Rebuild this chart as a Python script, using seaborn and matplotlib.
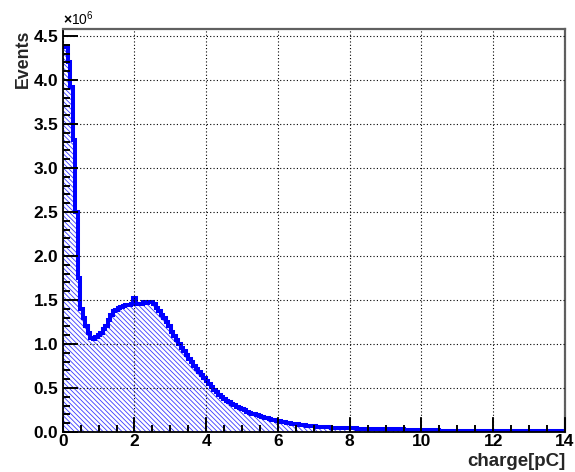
import numpy as np
import pandas as pd
import matplotlib
matplotlib.use("Agg")
import matplotlib.pyplot as plt
import seaborn as sns
from matplotlib.ticker import MultipleLocator, ScalarFormatter, FixedLocator

# ---------------- data ----------------
x_min, x_max, n_bins = 0.0, 14.0, 200
# histogram contents, in units of 10^6 events, one value per 0.07 pC bin
events_millions = [
    4.38, 4.38, 4.20, 3.92, 3.32, 2.50, 1.75, 1.40, 1.30, 1.20,
    1.12, 1.07, 1.06, 1.08, 1.10, 1.13, 1.17, 1.21, 1.27, 1.33,
    1.37, 1.39, 1.41, 1.42, 1.43, 1.44, 1.44, 1.45, 1.52, 1.45,
    1.46, 1.45, 1.48, 1.47, 1.48, 1.48, 1.46, 1.41, 1.37, 1.33,
    1.29, 1.25, 1.20, 1.14, 1.09, 1.05, 1.00, 0.96, 0.92, 0.87,
    0.83, 0.79, 0.755, 0.72, 0.685, 0.65, 0.615, 0.58, 0.545, 0.51,
    0.48, 0.45, 0.425, 0.40, 0.378, 0.357, 0.337, 0.318, 0.302, 0.287,
    0.272, 0.258, 0.245, 0.232, 0.220, 0.209, 0.199, 0.189, 0.179, 0.170,
    0.162, 0.155, 0.148, 0.141, 0.135, 0.129, 0.123, 0.117, 0.111, 0.106,
    0.101, 0.096, 0.091, 0.087, 0.083, 0.079, 0.076, 0.072, 0.069, 0.066,
    0.064, 0.061, 0.059, 0.057, 0.055, 0.053, 0.052, 0.050, 0.049, 0.048,
    0.047, 0.046, 0.045, 0.044, 0.043, 0.042, 0.041, 0.034, 0.034, 0.033,
    0.033, 0.033, 0.032, 0.032, 0.032, 0.031, 0.031, 0.031, 0.030, 0.030,
    0.030, 0.030, 0.029, 0.029, 0.029, 0.029, 0.028, 0.028, 0.028, 0.028,
    0.027, 0.027, 0.027, 0.027, 0.026, 0.026, 0.026, 0.026, 0.025, 0.025,
    0.014, 0.014, 0.014, 0.014, 0.014, 0.013, 0.013, 0.013, 0.013, 0.013,
    0.013, 0.013, 0.012, 0.012, 0.012, 0.012, 0.012, 0.012, 0.012, 0.012,
    0.012, 0.011, 0.011, 0.011, 0.011, 0.011, 0.011, 0.011, 0.011, 0.011,
    0.011, 0.011, 0.010, 0.010, 0.010, 0.010, 0.010, 0.010, 0.010, 0.010,
    0.010, 0.010, 0.010, 0.010, 0.010, 0.010, 0.010, 0.010, 0.010, 0.010,
]
x_label = "charge[pC]"
y_label = "Events"
x_major_ticks = [0, 2, 4, 6, 8, 10, 12, 14]
y_major_ticks_millions = [0.0, 0.5, 1.0, 1.5, 2.0, 2.5, 3.0, 3.5, 4.0, 4.5]
y_top_millions = 4.576

# ---------------- style ----------------
sns.set_theme(style="ticks")
plt.rcParams["font.family"] = ["Liberation Sans", "DejaVu Sans"]
plt.rcParams["font.weight"] = "bold"
plt.rcParams["mathtext.fontset"] = "custom"
plt.rcParams["mathtext.rm"] = "Liberation Sans"
plt.rcParams["hatch.linewidth"] = 0.6
plt.rcParams["hatch.color"] = "#3a3aff"

blue = "#0000ff"
hatch_blue = "#3a3aff"

edges = np.linspace(x_min, x_max, n_bins + 1)
centers = 0.5 * (edges[:-1] + edges[1:])
bin_edges = [float(e) for e in edges]
df = pd.DataFrame({"charge": centers,
                   "events": np.asarray(events_millions) * 1e6})

fig = plt.figure(figsize=(5.75, 4.72), dpi=100)
fig.patch.set_facecolor("white")
ax = fig.add_axes([0.10904, 0.08475, 0.87357, 0.85317])
ax.set_facecolor("white")

# hatched fill
sns.histplot(data=df, x="charge", weights="events", bins=bin_edges,
             element="step", fill=True, alpha=1, color=blue,
             facecolor="none", edgecolor=hatch_blue, hatch="\\" * 7,
             linewidth=0, ax=ax)
# thick outline
sns.histplot(data=df, x="charge", weights="events", bins=bin_edges,
             element="step", fill=False, color=blue, alpha=1,
             linewidth=2.9, solid_joinstyle="miter",
             solid_capstyle="butt", ax=ax)

ax.set_xlim(x_min, x_max)
ax.set_ylim(0, y_top_millions * 1e6)

ax.xaxis.set_major_locator(FixedLocator(x_major_ticks))
ax.xaxis.set_minor_locator(MultipleLocator(0.5))
ax.yaxis.set_major_locator(FixedLocator([v * 1e6 for v in y_major_ticks_millions]))
ax.yaxis.set_minor_locator(MultipleLocator(0.1e6))
fmt = ScalarFormatter(useMathText=True)
fmt.set_powerlimits((0, 0))
ax.yaxis.set_major_formatter(fmt)

ax.set_axisbelow(False)
ax.grid(True, which="major", color="black", linestyle=(0, (1, 2)),
        linewidth=0.8)
ax.grid(False, which="minor")

ax.tick_params(axis="both", which="both", direction="in",
               bottom=True, left=True, top=False, right=False,
               color="black", width=1.2, labelcolor="black",
               labelsize=12.5)
ax.tick_params(axis="both", which="major", length=10.5)
ax.tick_params(axis="both", which="minor", length=5.0)
ax.tick_params(axis="x", which="major", pad=1.2)
ax.tick_params(axis="y", which="major", pad=3.0)

# inward tick marks drawn as short segments at the axis' own tick locations
x_major_locs = [t for t in ax.xaxis.get_majorticklocs() if x_min <= t <= x_max]
x_minor_locs = [t for t in ax.xaxis.get_minorticklocs() if x_min < t < x_max]
y_major_locs = list(ax.yaxis.get_majorticklocs())
y_minor_locs = [t for t in ax.yaxis.get_minorticklocs()
                if 0 < t < y_top_millions * 1e6]
xt = ax.get_xaxis_transform()
yt = ax.get_yaxis_transform()
ax.vlines(x_major_locs, 0, 0.035, transform=xt, color="black",
          linewidth=1.2, zorder=3, clip_on=False)
ax.vlines(x_minor_locs, 0, 0.017, transform=xt, color="black",
          linewidth=1.2, zorder=3, clip_on=False)
ax.hlines(y_major_locs, 0, 0.030, transform=yt, color="black",
          linewidth=1.2, zorder=3, clip_on=False)
ax.hlines(y_minor_locs, 0, 0.0145, transform=yt, color="black",
          linewidth=1.2, zorder=3, clip_on=False)

for side in ["left", "bottom"]:
    ax.spines[side].set_visible(True)
    ax.spines[side].set_color("black")
    ax.spines[side].set_linewidth(1.3)
for side in ["top", "right"]:
    ax.spines[side].set_visible(True)
    ax.spines[side].set_color("#606060")
    ax.spines[side].set_linewidth(1.6)

ax.set_xlim(x_min, x_max)
ax.set_ylim(0, y_top_millions * 1e6)

ax.set_xlabel(x_label, loc="right", fontsize=13.5, fontweight="bold")
ax.set_ylabel(y_label, loc="top", fontsize=12.8, fontweight="bold")
ax.xaxis.set_label_coords(1.0, -0.052)
ax.yaxis.set_label_coords(-0.062, 1.0)

off = ax.yaxis.get_offset_text()
off.set_fontsize(10)
off.set_fontweight("normal")

fig.savefig("out.png", dpi=100)
